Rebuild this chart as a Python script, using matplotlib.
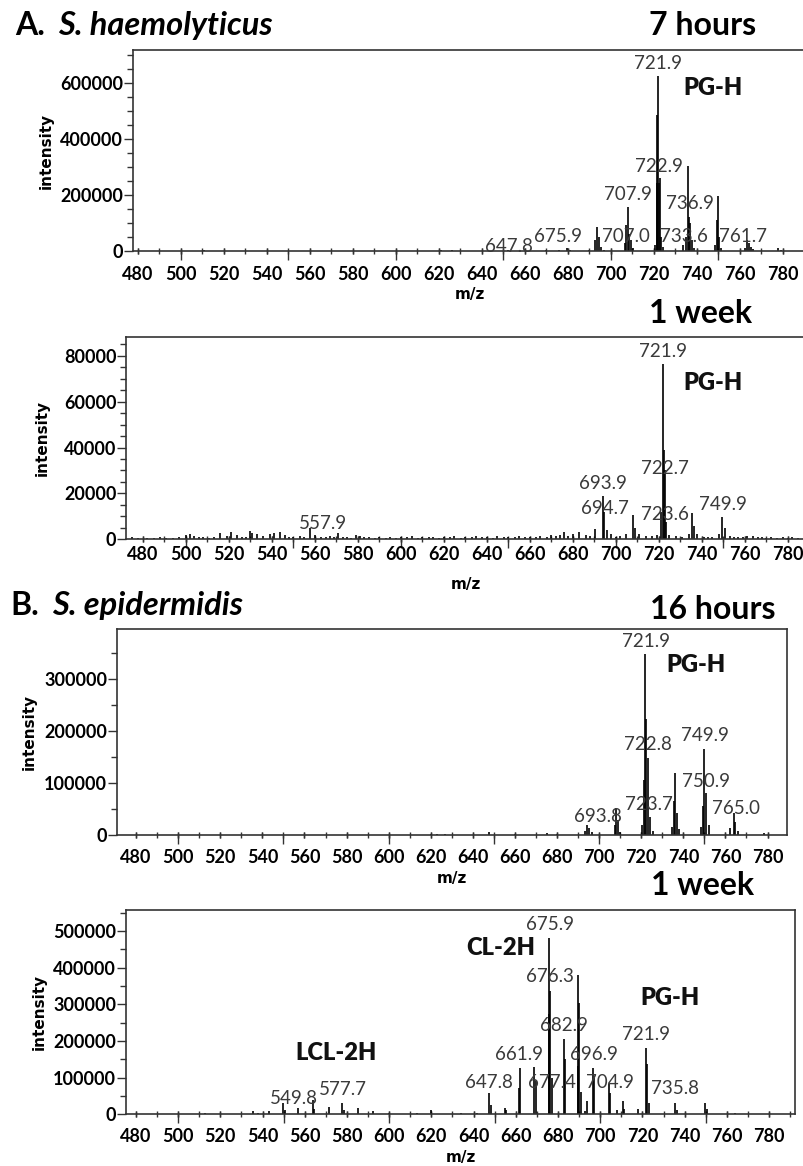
import matplotlib
matplotlib.use("Agg")
import matplotlib.pyplot as plt
from matplotlib.ticker import MultipleLocator, StrMethodFormatter

W, H = 804, 1166

# ---- A. S. haemolyticus, 7 hours
a7_mz = [511, 621, 626, 652, 670, 676, 679.8, 681, 690, 692.8, 693.6, 694.4, 695.5, 697,
         706.5, 707.0, 707.9, 708.6, 709.5, 710.5, 720.5, 721.3, 721.6, 721.9, 722.3, 722.9,
         723.5, 724.5, 733.6, 734.8, 735.8, 736.4, 736.9, 737.6, 738.5, 748.5, 749.3, 749.8,
         750.5, 751.5, 762.5, 763.5, 764.2, 765, 766, 778, 779]
a7_int = [3000, 2500, 2500, 3000, 3000, 4000, 9600, 5000, 4000, 40000, 87000, 50000, 15000, 5000,
          30000, 92800, 158300, 60000, 39000, 10000, 20000, 242000, 486000, 625000, 242000, 259600,
          51000, 15000, 20000, 50000, 303500, 122600, 100000, 40000, 12000, 20000, 110000, 197600,
          50000, 12000, 10000, 39000, 27000, 15000, 8000, 9500, 5000]
a7_lab = ["721.9", "722.9", "707.9", "736.9", "707.0", "733.6", "761.7", "675.9", "647.8"]
a7_lab_mz = [722.2, 722.6, 707.9, 736.7, 707.0, 734.1, 761.4, 675.3, 652.7]
a7_lab_int = [640000, 271000, 170000, 140000, 21000, 21000, 21000, 21000, -14000]

# ---- A. S. haemolyticus, 1 week
a1w_mz = [475, 478, 482, 485, 488, 491, 494, 497, 500, 502, 504, 506, 508, 511, 513, 516, 519,
          521, 524, 526, 528, 530, 531, 533, 536, 539, 541, 544, 546, 548, 550, 553, 555, 557.9,
          560, 563, 565, 567, 569, 571, 573, 575, 577, 579, 581, 583, 585, 588, 590, 593, 595,
          598, 600, 603, 605, 608, 610, 613, 615, 618, 620, 623, 625, 628, 630, 633, 635, 638,
          640, 643, 645, 648, 650, 653, 655, 658, 660, 663, 665, 668, 670, 672, 674, 676, 678,
          680, 683, 686, 688, 690.4, 693.9, 694.7, 696, 698, 700, 702, 705, 707.9, 709, 711,
          714, 717, 719, 721.2, 721.9, 722.3, 722.7, 723.6, 725, 728, 731, 734, 735.6, 736.5,
          738, 741, 743, 745, 748, 749.6, 750.6, 753, 755, 757, 759, 761, 764, 766, 768, 770,
          772, 775, 778, 780, 782, 785]
a1w_int = [800, 500, 600, 700, 900, 600, 700, 800, 1800, 2400, 1500, 1000, 900, 700, 1200, 2800,
           1500, 3000, 1800, 1100, 1000, 3600, 2800, 2400, 1500, 2200, 2600, 3200, 1800, 1000,
           1200, 1500, 1000, 4800, 2000, 1200, 900, 1500, 800, 2600, 1000, 1000, 700, 1800, 1300,
           800, 900, 700, 1100, 600, 800, 700, 1000, 800, 1500, 700, 900, 800, 1200, 700, 800,
           900, 1300, 700, 1000, 800, 1600, 1200, 1000, 700, 1500, 900, 1100, 800, 1300, 900,
           1200, 1000, 1500, 1100, 1800, 1500, 2000, 3200, 1500, 2200, 3200, 1800, 1500, 4500,
           19000, 12000, 4000, 2500, 1200, 1500, 2500, 10600, 5000, 2500, 1500, 1500, 2000,
           12000, 76200, 39000, 30200, 7700, 2000, 1500, 1200, 2500, 11300, 6000, 2500, 1200,
           900, 1200, 2500, 9600, 5000, 1500, 900, 1000, 800, 1500, 1500, 1100, 1000, 700, 800,
           600, 1200, 700, 800, 600]
a1w_lab = ["721.9", "722.7", "693.9", "694.7", "723.6", "749.9", "557.9"]
a1w_lab_mz = [721.9, 722.8, 694.1, 694.8, 723.0, 749.7, 563.7]
a1w_lab_int = [78100, 27300, 20700, 9900, 7000, 11300, 3300]

# ---- B. S. epidermidis, 16 hours
b16_mz = [620, 623, 627, 647.6, 660, 675.4, 680, 693.2, 694.2, 695, 696.5, 707.4, 708.1, 708.8,
          710, 720.5, 721.3, 721.9, 722.3, 723.2, 724.3, 725.5, 734.5, 735.4, 736.2, 737, 738,
          748.5, 749.3, 749.9, 750.7, 752, 762.3, 763.9, 764.7, 766, 778.1]
b16_int = [2000, 2500, 2000, 6400, 2000, 4000, 1500, 8000, 19400, 13600, 5000, 20000, 51800,
           29000, 6000, 20000, 106800, 347600, 223000, 149000, 35500, 8000, 15000, 64700, 119800,
           42700, 12000, 15000, 55000, 165000, 81000, 20000, 13600, 42700, 25800, 8000, 3500]
b16_lab = ["721.9", "722.8", "749.9", "750.9", "723.7", "765.0", "693.8"]
b16_lab_mz = [722.3, 723.3, 750.2, 750.9, 723.6, 765.2, 699.2]
b16_lab_int = [356000, 158700, 174800, 87400, 42100, 35500, 19400]

# ---- B. S. epidermidis, 1 week
b1w_mz = [512.7, 535.6, 538, 543.1, 549.8, 550.8, 556.9, 563.8, 564.6, 571.3, 577.7, 578.5,
          585.2, 592.5, 600, 613, 620, 634, 641.5, 647.5, 648.3, 654.7, 655.5, 661.5, 662.0,
          668.8, 669.4, 675.6, 675.9, 676.4, 677.0, 682.7, 683.2, 689.3, 689.6, 690.1, 690.8,
          693.0, 693.6, 696.6, 697.2, 704.0, 704.8, 708.0, 710.8, 711.5, 717.8, 721.7, 722.2,
          723, 735.6, 736.3, 749.8, 750.4, 763.7]
b1w_int = [3000, 8000, 3000, 8000, 30000, 12000, 16400, 39000, 15000, 20700, 31600, 12000,
           16400, 9000, 3000, 3000, 12000, 4000, 4000, 57300, 25000, 18000, 12000, 72600, 127200,
           129900, 90000, 272700, 481800, 336300, 100000, 206200, 150000, 131800, 379000, 304400,
           60000, 10000, 36400, 127200, 100000, 81800, 59000, 11000, 36400, 15000, 13600, 181800,
           136000, 30000, 31800, 12000, 31800, 15000, 4500]
b1w_lab = ["675.9", "676.3", "682.9", "721.9", "661.9", "696.9", "647.8", "677.4", "704.9",
           "735.8", "577.7", "549.8"]
b1w_lab_mz = [676.0, 676.0, 682.7, 721.8, 661.4, 697.1, 647.5, 677.3, 704.6, 735.6, 578.2, 554.7]
b1w_lab_int = [495000, 352600, 218200, 195300, 140800, 140800, 63600, 63600, 63600, 47300,
               43600, 20700]

LAB_FONT = ["Lato", "DejaVu Sans"]
INK = "#111111"

fig = plt.figure(figsize=(W / 100, H / 100), dpi=100)


def draw_panel(box, xlim, ylim, ystep, mz, inten, labs, lab_mz, lab_int, xpad, ylab_px, xlab_px):
    l, t, r, b = box
    ax = fig.add_axes([l / W, 1 - b / H, (r - l) / W, (b - t) / H])
    ax.vlines(mz, 0, inten, color="black", lw=1.2)
    ax.set_xlim(*xlim)
    ax.set_ylim(*ylim)
    for s in ax.spines.values():
        s.set_color("#333333")
        s.set_linewidth(1.2)

    ax.xaxis.set_major_locator(MultipleLocator(20))
    ax.xaxis.set_minor_locator(MultipleLocator(10))
    ax.xaxis.remove_overlapping_locs = False
    ax.tick_params(axis="x", which="both", direction="inout", length=5, width=1,
                   color="#333333", pad=xpad)
    ax.yaxis.set_major_locator(MultipleLocator(ystep[0]))
    ax.yaxis.set_minor_locator(MultipleLocator(ystep[1]))
    ax.yaxis.set_major_formatter(StrMethodFormatter("{x:.0f}"))
    ax.tick_params(axis="y", which="major", direction="out", length=6.5, width=1,
                   color="#333333", pad=0.5)
    ax.tick_params(axis="y", which="minor", direction="out", length=4.5, width=1,
                   color="#333333")
    for lab in ax.get_xticklabels() + ax.get_yticklabels():
        lab.set_family(LAB_FONT)
        lab.set_fontweight("bold")
        lab.set_fontsize(13)

    # longer ticks every 50
    sec = ax.secondary_xaxis("bottom")
    sec.set_xticks(list(range(500, 800, 50)))
    sec.tick_params(direction="out", length=6.5, width=1, color="#333333", labelbottom=False)
    sec.spines["bottom"].set_visible(False)

    ax.set_ylabel("intensity", fontsize=11, fontweight="bold", family="DejaVu Sans")
    ax.yaxis.set_label_coords((ylab_px - l) / (r - l), 0.5)
    ax.set_xlabel("m/z", fontsize=11, fontweight="bold", family="DejaVu Sans")
    ax.xaxis.set_label_coords(0.5, -(xlab_px - b) / (b - t))

    for s, x, y in zip(labs, lab_mz, lab_int):
        ax.text(x, y, s, ha="center", va="bottom", fontsize=13.5, family=LAB_FONT,
                color="#3a3a3a", clip_on=False)
    return ax


def species(ax, text, x, y):
    ax.text(x, y, text, ha="center", va="center", fontsize=17, fontweight="heavy",
            family=LAB_FONT, color=INK)


ax1 = draw_panel((133, 50, 806, 251), (477.8, 790.8), (0, 719000), (200000, 50000),
                 a7_mz, a7_int, a7_lab, a7_lab_mz, a7_lab_int, 8.5, 53.3, 287)
species(ax1, "PG-H", 747.3, 582000)

ax2 = draw_panel((126, 336.7, 806, 539.3), (472.2, 788.5), (0, 88300), (20000, 5000),
                 a1w_mz, a1w_int, a1w_lab, a1w_lab_mz, a1w_lab_int, 2.0, 50, 577)
species(ax2, "PG-H", 745.0, 68000)

ax3 = draw_panel((116.7, 629.3, 786.7, 835), (470.8, 789.1), (0, 396000), (100000, 50000),
                 b16_mz, b16_int, b16_lab, b16_lab_mz, b16_lab_int, 7.5, 36.7, 871)
species(ax3, "PG-H", 746.0, 327000)

ax4 = draw_panel((126, 910, 795, 1114.3), (475.3, 792.3), (0, 557000), (100000, 50000),
                 b1w_mz, b1w_int, b1w_lab, b1w_lab_mz, b1w_lab_int, 7.5, 46.7, 1150)
species(ax4, "CL-2H", 653.0, 454400)
species(ax4, "PG-H", 732.9, 318000)
species(ax4, "LCL-2H", 574.8, 166300)


def heading(x, y, text, italic=None, gap=13):
    t = fig.text(x / W, 1 - y / H, text, fontsize=23, fontweight="bold", family=LAB_FONT,
                 va="baseline", color="black")
    if italic:
        fig.canvas.draw()
        bb = t.get_window_extent()
        fig.text((bb.x1 + gap) / W, 1 - y / H, italic, fontsize=23.5, fontweight="bold",
                 style="italic", family=LAB_FONT, va="baseline", color="black")


heading(15, 35, "A.", "S. haemolyticus")
heading(649, 35, "7 hours")
heading(649, 323, "1 week")
heading(10, 615, "B.", "S. epidermidis")
heading(650, 619, "16 hours")
heading(651, 895, "1 week")

fig.savefig("out.png", dpi=100)
